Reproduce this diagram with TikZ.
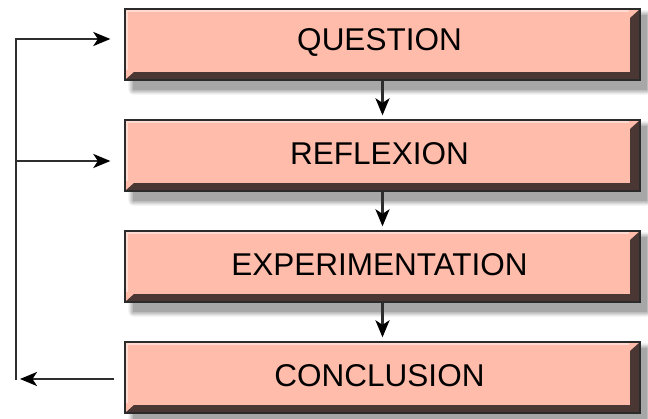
\documentclass[tikz,border=0pt]{standalone}
\usepackage{fontspec}
\setmainfont{Liberation Sans}
\usetikzlibrary{arrows.meta,calc,backgrounds}
\definecolor{face}{HTML}{FFBCAB}
\definecolor{bevel}{HTML}{4A3733}
\definecolor{edge}{HTML}{2B2B2B}
\definecolor{wire}{HTML}{2E2E2E}
\tikzset{
  stagebox/.style={rectangle, minimum width=515pt, minimum height=71pt,
    inner sep=0pt, fill=face, draw=edge, line width=1.3pt,
    path picture={
      \fill[bevel] (path picture bounding box.south west)
        -- (path picture bounding box.south east)
        -- (path picture bounding box.north east)
        -- ([xshift=-10pt,yshift=-9pt]path picture bounding box.north east)
        -- ([xshift=-10pt,yshift=8pt]path picture bounding box.south east)
        -- ([xshift=9pt,yshift=8pt]path picture bounding box.south west)
        -- cycle;
      \draw[white,opacity=0.45,line width=2.5pt]
        ([xshift=2pt,yshift=10pt]path picture bounding box.south west)
        -- ([xshift=2pt,yshift=-2pt]path picture bounding box.north west)
        -- ([xshift=-11pt,yshift=-2pt]path picture bounding box.north east);
    }},
  stagelabel/.style={font=\fontsize{31.5}{31.5}\selectfont, text=black, inner sep=0pt},
  link/.style={draw=wire, line width=2.4pt},
  flow/.style={link, -{Stealth[length=17pt,width=14pt,inset=4.5pt,fill=black,color=black]}},
}
\begin{document}
\begin{tikzpicture}[x=1pt,y=-1pt]
\useasboundingbox (0,0) rectangle (648,418);

\node[stagebox] (q) at (382.5,44.5) {};
\node[stagebox] (r) at (382.5,155.5) {};
\node[stagebox] (e) at (382.5,266.5) {};
\node[stagebox] (c) at (382.5,377.5) {};
\node[stagelabel] (qt) at ([xshift=-3pt,yshift=2pt]q.center) {QUESTION};
\node[stagelabel] (rt) at ([xshift=-3pt,yshift=2pt]r.center) {REFLEXION};
\node[stagelabel] (et) at ([xshift=-3pt,yshift=2pt]e.center) {EXPERIMENTATION};
\node[stagelabel] (ct) at ([xshift=-3pt,yshift=2pt]c.center) {CONCLUSION};

% soft drop shadows behind each stage
\begin{scope}[on background layer]
  \foreach \n in {q,r,e,c}{
    \foreach \s/\o in {5/0.07,3.5/0.09,2/0.11,0.5/0.13}{
      \fill[black,opacity=\o,rounded corners=\s pt]
        ($(\n.north west)+(9-\s,7-\s)$) rectangle ($(\n.south east)+(6+\s,9+\s)$);
    }
  }
\end{scope}

% downward flow between the stages
\draw[flow, shorten >=4pt] (q.south) -- (r.north);
\draw[flow, shorten >=4pt] (r.south) -- (e.north);
\draw[flow, shorten >=4pt] (e.south) -- (c.north);

% feedback loop on the left
\coordinate (lb) at (16,379);
\coordinate (lt) at (16,39);
\coordinate (lm) at (16,161);
\draw[flow] ($(c.west)+(-10,1.5)$) -- (20,379);
\draw[link, line cap=rect] (lb) -- (lt);
\draw[flow, shorten >=14pt] (lt) -- (q.west |- lt);
\draw[flow, shorten >=14pt] (lm) -- (r.west |- lm);
\end{tikzpicture}
\end{document}
